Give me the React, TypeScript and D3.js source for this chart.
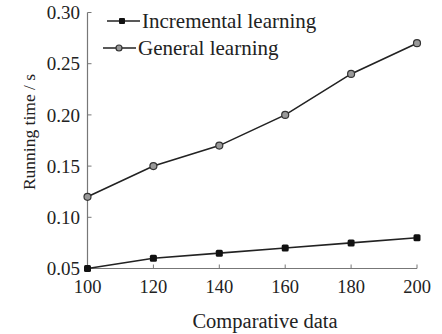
import React from "react";
import * as d3 from "d3";

const categories = [100, 120, 140, 160, 180, 200];
const incremental = [0.05, 0.06, 0.065, 0.07, 0.075, 0.08];
const general = [0.12, 0.15, 0.17, 0.2, 0.24, 0.27];
const yTicks = [0.05, 0.1, 0.15, 0.2, 0.25, 0.3];
const xTicks = [100, 120, 140, 160, 180, 200];
const seriesNames = ["Incremental learning", "General learning"];

const W = 442, H = 334;
const left = 87.5, right = 417, top = 12.5, bottom = 268.5;

export default function App() {
  const x = d3.scaleLinear().domain([100, 200]).range([left, right]);
  const y = d3.scaleLinear().domain([0.05, 0.3]).range([bottom, top]);
  const line = d3.line<number>().x((_, i) => x(categories[i])).y((d) => y(d));
  const axisColor = "#777";
  const lineColor = "#222";
  return (
    <div style={{ position: "absolute", left: 0, top: 0, fontFamily: "'Times New Roman', Times, serif" }}>
      <svg width={W} height={H} style={{ display: "block", background: "#fff" }} fontFamily="Times New Roman">
        <line x1={left} x2={left} y1={top} y2={bottom} stroke={axisColor} strokeWidth={1.2} />
        <line x1={left} x2={right} y1={bottom} y2={bottom} stroke={axisColor} strokeWidth={1.2} />
        {yTicks.map((t) => (
          <g key={t}>
            <line x1={left} x2={left + 4} y1={y(t)} y2={y(t)} stroke={axisColor} strokeWidth={1} />
            <text x={80} y={y(t)} dy="0.35em" textAnchor="end" fontSize={19} fill="#222">
              {t.toFixed(2)}
            </text>
          </g>
        ))}
        {xTicks.map((t) => (
          <g key={t}>
            <line x1={x(t)} x2={x(t)} y1={bottom} y2={bottom - 4} stroke={axisColor} strokeWidth={1} />
            <text x={x(t)} y={293} textAnchor="middle" fontSize={18.5} fill="#222">
              {t}
            </text>
          </g>
        ))}
        <text x={265} y={328} textAnchor="middle" fontSize={20.5} fill="#222">Comparative data</text>
        <text transform="translate(35, 132) rotate(-90)" textAnchor="middle" fontSize={17.5} fill="#222">
          Running time / s
        </text>
        <path d={line(general) || ""} fill="none" stroke={lineColor} strokeWidth={1.6} />
        <path d={line(incremental) || ""} fill="none" stroke={lineColor} strokeWidth={1.6} />
        {general.map((v, i) => (
          <circle key={"g" + i} cx={x(categories[i])} cy={y(v)} r={3.5} fill="#999" stroke="#333" strokeWidth={1.2} />
        ))}
        {incremental.map((v, i) => (
          <rect key={"i" + i} x={x(categories[i]) - 3.5} y={y(v) - 3.5} width={7} height={7} rx={1.5} fill="#111" />
        ))}
        <g>
          <line x1={107} x2={140} y1={21} y2={21} stroke={lineColor} strokeWidth={1.6} />
          <rect x={122 - 3} y={21 - 3} width={6} height={6} rx={1} fill="#111" />
          <text x={142} y={21} dy="0.35em" fontSize={21} fill="#222">{seriesNames[0]}</text>
          <line x1={103} x2={136} y1={48} y2={48} stroke={lineColor} strokeWidth={1.6} />
          <circle cx={119} cy={48} r={3} fill="#999" stroke="#333" strokeWidth={1.2} />
          <text x={138} y={48} dy="0.35em" fontSize={21} fill="#222">{seriesNames[1]}</text>
        </g>
      </svg>
    </div>
  );
}
